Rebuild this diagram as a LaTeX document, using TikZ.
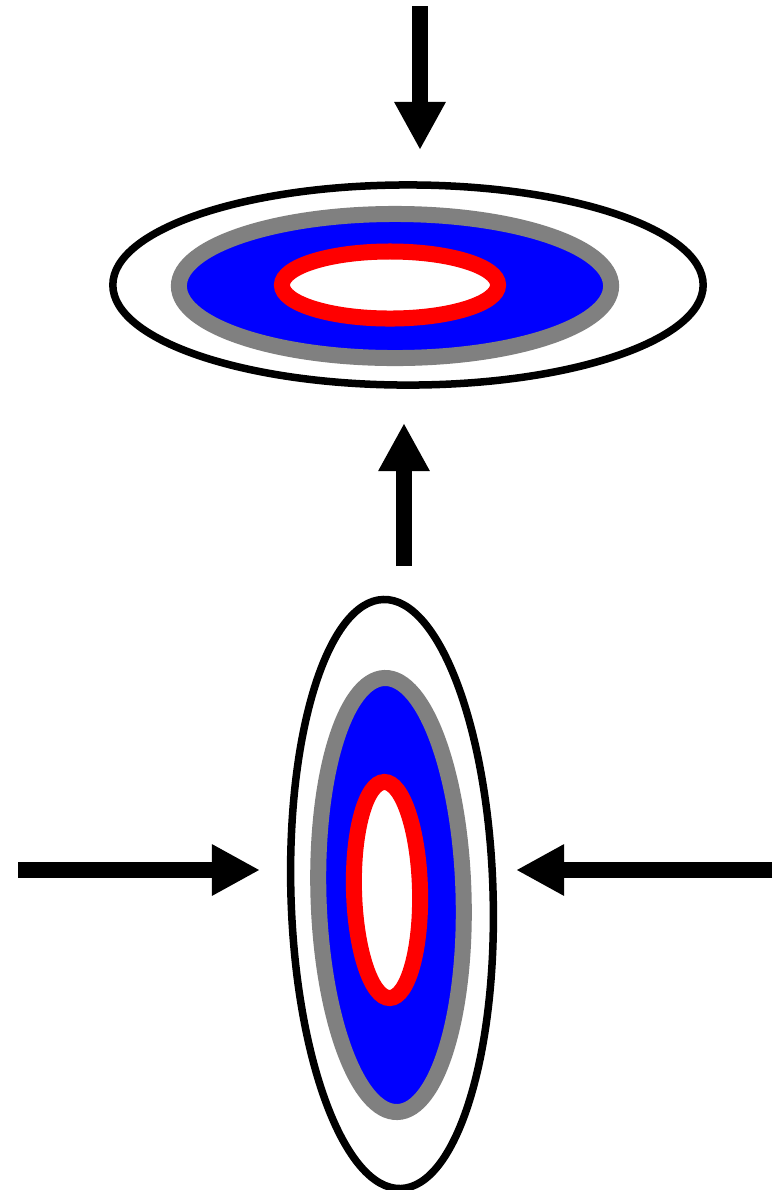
\documentclass[tikz,border=0pt]{standalone}
\usetikzlibrary{arrows.meta,shapes.geometric}

\begin{document}
\begin{tikzpicture}[
  x=0.01cm, y=-0.01cm,
  >={Triangle[length=0.48cm, width=0.48cm]},
  rim/.style={draw=black, ellipse, inner sep=0pt, line width=0.075cm,
              fill=white},
  band/.style={draw=gray, ellipse, inner sep=0pt, line width=0.16cm,
              fill=blue},
  core/.style={draw=red, ellipse, inner sep=0pt, line width=0.16cm,
              fill=white},
  arr/.style={->, line width=0.16cm},
]
\useasboundingbox (0,0) rectangle (780,1190);

% flattened drop
\node[rim, minimum width=5.9cm, minimum height=2.0cm] (flatRim) at (408,285) {};
\node[band, minimum width=4.32cm, minimum height=1.44cm] (flatBand) at (395,286) {};
\node[core, minimum width=2.16cm, minimum height=0.67cm] (flatCore) at (390,285) {};

% upright drop
\node[rim, rotate=1.7, minimum width=2.02cm, minimum height=5.89cm] (tallRim) at (392,894) {};
\node[band, rotate=1.7, minimum width=1.45cm, minimum height=4.34cm] (tallBand) at (391,895) {};
\node[core, rotate=1.5, minimum width=0.66cm, minimum height=2.16cm] (tallCore) at (387,890) {};

% pushes
\coordinate (topTail) at (420,6);
\coordinate (topTip) at (420,150);
\coordinate (riseTail) at (404,566);
\coordinate (riseTip) at (404,423);
\coordinate (leftTail) at (18,870);
\coordinate (leftTip) at (260,870);
\coordinate (rightTail) at (772,870);
\coordinate (rightTip) at (516,870);

\draw[arr] (topTail) -- (topTip);
\draw[arr] (riseTail) -- (riseTip);
\draw[arr] (leftTail) -- (leftTip);
\draw[arr] (rightTail) -- (rightTip);

\end{tikzpicture}
\end{document}
